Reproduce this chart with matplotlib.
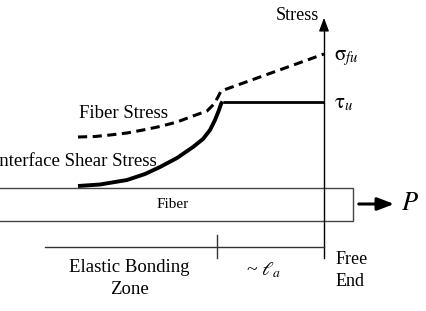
import matplotlib.pyplot as plt
from matplotlib.patches import Rectangle

plt.rcParams['font.family'] = ['Liberation Serif', 'DejaVu Serif']
plt.rcParams['mathtext.fontset'] = 'stix'

# curve points (image coords, y goes down)
fiber_x = [78, 95, 110, 127, 143, 160, 177, 193, 207, 214, 218, 221, 324]
fiber_y = [137, 136.5, 135, 133, 130, 126.5, 122, 116, 111, 104, 97, 91, 54]

shear_x = [78, 100, 127, 145, 160, 177, 193, 203, 210, 215, 219, 221, 222.5]
shear_y = [186, 184.5, 180, 174, 167, 158, 147, 139, 130, 120, 110, 104, 101.5]
plateau_x = [222.5, 324]
plateau_y = [101.5, 101.5]

fig = plt.figure(figsize=(4.26, 3.11), dpi=100)
ax = fig.add_axes([0, 0, 1, 1])
ax.set_xlim(0, 426)
ax.set_ylim(311, 0)
ax.axis('off')

# stress axis
ax.plot([324, 324], [24, 258], color='black', lw=1)
ax.annotate('', xy=(324, 15), xytext=(324, 26),
            arrowprops=dict(arrowstyle='-|>,head_width=0.3,head_length=0.8',
                            color='black', lw=1))
ax.text(319, 16, 'Stress', ha='right', va='center', fontsize=13)

# curves
ax.plot(fiber_x, fiber_y, color='black', lw=2.2, linestyle=(0, (3.0, 1.8)))
ax.plot(shear_x, shear_y, color='black', lw=2.8, solid_capstyle='butt')
ax.plot(plateau_x, plateau_y, color='black', lw=2, solid_capstyle='butt')

ax.text(334, 58, r'$\mathrm{\sigma}_{fu}$', ha='left', va='center', fontsize=15)
ax.text(334, 104, r'$\mathrm{\tau}_u$', ha='left', va='center', fontsize=15)

ax.text(79, 113, 'Fiber Stress', ha='left', va='center', fontsize=13.5)
# cut off at the left edge, as in the reference
ax.text(157, 162, 'Interface Shear Stress', ha='right', va='center', fontsize=13.5)

# fiber
ax.add_patch(Rectangle((-5, 188), 358, 33, fill=False, edgecolor='#444444', lw=1))
ax.text(173, 204, 'Fiber', ha='center', va='center', fontsize=11)
ax.annotate('', xy=(397, 204), xytext=(356, 204),
            arrowprops=dict(arrowstyle='-|>,head_width=0.38,head_length=1.0',
                            color='black', lw=2.2))
ax.text(401, 204, r'$P$', ha='left', va='center', fontsize=19)

# dimension line
ax.plot([45, 324], [247, 247], color='#333333', lw=1)
ax.plot([217, 217], [235, 258], color='#333333', lw=1)
ax.text(129, 268, 'Elastic Bonding', ha='center', va='center', fontsize=13.5)
ax.text(129, 290, 'Zone', ha='center', va='center', fontsize=13.5)
ax.text(264, 270, r'~ $\ell_a$', ha='center', va='center', fontsize=14)
ax.text(336, 259, 'Free', ha='left', va='center', fontsize=13)
ax.text(336, 281, 'End', ha='left', va='center', fontsize=13)

plt.savefig('out.png', dpi=100)
